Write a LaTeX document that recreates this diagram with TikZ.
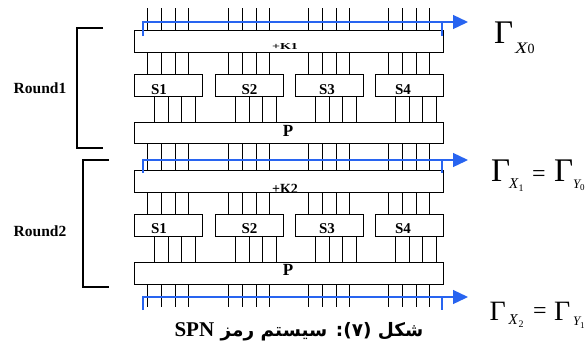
\documentclass[tikz,border=0pt]{standalone}
\usepackage{fontspec}
\setmainfont{Liberation Serif}
\newfontfamily\arabicfont[Script=Arabic]{DejaVu Sans}
\TeXXeTstate=1
\usetikzlibrary{arrows.meta}
\definecolor{wireblue}{RGB}{40,100,240}
\tikzset{
  blk/.style={draw, line width=1.3pt, minimum width=309pt, minimum height=22pt, inner sep=0pt, anchor=north west},
  sbox/.style={draw, line width=1.3pt, minimum width=68pt, minimum height=22pt, inner sep=0pt, anchor=north west},
  wire/.style={line width=0.95pt},
  tap/.style={wireblue, line width=1.3pt},
  tapar/.style={wireblue, line width=1.3pt, -{Triangle[length=15pt,width=14pt]}},
  brk/.style={line width=1.2pt},
  slbl/.style={inner sep=0pt, anchor=base, font=\bfseries\fontsize{15}{15}\selectfont},
  plbl/.style={inner sep=0pt, anchor=base, font=\bfseries\fontsize{17}{17}\selectfont},
  klbl/.style={inner sep=0pt, anchor=base, font=\bfseries\fontsize{14}{14}\selectfont},
  rlbl/.style={inner sep=0pt, font=\bfseries\fontsize{15.5}{15.5}\selectfont},
  gam/.style={inner sep=0pt, anchor=base west, font=\fontsize{#1}{#1}\selectfont},
  sub/.style={inner sep=0pt, anchor=base west, font=\itshape\fontsize{#1}{#1}\selectfont},
  subn/.style={inner sep=0pt, anchor=base west, font=\fontsize{#1}{#1}\selectfont},
}
\begin{document}
\begin{tikzpicture}[x=1pt,y=-1pt]
\useasboundingbox (0,0) rectangle (585,341);
% free-end coordinates
\coordinate (topin) at (0,8);
\coordinate (botout) at (0,307);
% boxes round 1
\node[blk] (k1) at (134,30) {};
\node[sbox] (s11) at (134,74) {};
\node[sbox] (s12) at (215,74) {};
\node[sbox] (s13) at (295,74) {};
\node[sbox] (s14) at (375,74) {};
\node[blk, minimum height=21pt] (p1) at (134,122) {};
% boxes round 2
\node[blk] (k2) at (134,170) {};
\node[sbox] (s21) at (134,214) {};
\node[sbox] (s22) at (215,214) {};
\node[sbox] (s23) at (295,214) {};
\node[sbox] (s24) at (375,214) {};
\node[blk] (p2) at (134,262) {};
% wires
\foreach \L/\g in {134/1,215/2,295/3,375/4}{
  \foreach \o in {13.5,27.3,41,54.8}{
    \pgfmathsetmacro\X{\L+\o}
    \draw[wire] (\X,0 |- topin) -- (\X,0 |- k1.north);
    \draw[wire] (\X,0 |- k1.south) -- (\X,0 |- s1\g.north);
    \draw[wire] (\X,0 |- p1.south) -- (\X,0 |- k2.north);
    \draw[wire] (\X,0 |- k2.south) -- (\X,0 |- s2\g.north);
    \draw[wire] (\X,0 |- p2.south) -- (\X,0 |- botout);
  }
  \foreach \o in {20.5,34,47.5,61}{
    \pgfmathsetmacro\X{\L+\o}
    \draw[wire] (\X,0 |- s1\g.south) -- (\X,0 |- p1.north);
    \draw[wire] (\X,0 |- s2\g.south) -- (\X,0 |- p2.north);
  }
}
% box labels
\node[slbl] (l11) at (159,94) {S1};
\node[slbl] (l12) at (249.5,94) {S2};
\node[slbl] (l13) at (327,94) {S3};
\node[slbl] (l14) at (403,94) {S4};
\node[slbl] (l21) at (159,233.3) {S1};
\node[slbl] (l22) at (249.5,233.3) {S2};
\node[slbl] (l23) at (327,233.3) {S3};
\node[slbl] (l24) at (403,233.3) {S4};
\node[plbl] (lp1) at (288,136) {P};
\node[plbl] (lp2) at (288,275) {P};
\node[klbl] (lk1) at (285,49.3) {\scalebox{1}[0.65]{+K1}};
\begin{scope}
  \clip (k2.north west) rectangle (k2.south east);
  \node[klbl] (lk2) at (285,193) {+K2};
\end{scope}
% blue taps
\coordinate (a1) at (143,36);  \coordinate (b1) at (442,36);  \coordinate (e1) at (468,22);
\coordinate (a2) at (143,173); \coordinate (b2) at (442,173); \coordinate (e2) at (468,160);
\coordinate (a3) at (143,310); \coordinate (b3) at (442,310); \coordinate (e3) at (468,297);
\draw[tap] (a1) |- (b1 |- e1) -- (b1);
\draw[tapar] (b1 |- e1) -- (e1);
\draw[tap] (a2) |- (b2 |- e2) -- (b2);
\draw[tapar] (b2 |- e2) -- (e2);
\draw[tap] (a3) |- (b3 |- e3) -- (b3);
\draw[tapar] (b3 |- e3) -- (e3);
% round brackets
\draw[brk] (103,28) -- (77,28) -- (77,148) -- (103,148);
\draw[brk] (109,160) -- (83,160) -- (83,287) -- (109,287);
\node[rlbl] (r1) at (40,88.3) {Round1};
\node[rlbl] (r2) at (40,231) {Round2};
% Gamma labels
\node[gam=33] (g0) at (494,43.3) {Γ};
\node[sub=16] (g0x) at (515,53.3) {\scalebox{1.25}[1]{X}};
\node[subn=14] (g0n) at (527.5,53.3) {0};
\node[gam=33] (g1) at (491,181.7) {Γ};
\node[sub=15] (g1x) at (509,188) {X};
\node[subn=10] (g1n) at (518.5,191) {1};
\node[subn=24] (g1e) at (532,181) {=};
\node[gam=33] (g1b) at (554,181.7) {Γ};
\node[sub=13] (g1y) at (573,188) {Y};
\node[subn=9] (g1yn) at (580,190.5) {0};
\node[gam=28] (g2) at (489.5,320) {Γ};
\node[sub=15] (g2x) at (508.5,324) {X};
\node[subn=10] (g2n) at (518.5,327.5) {2};
\node[subn=24] (g2e) at (533,318.5) {=};
\node[gam=28] (g2b) at (554,320) {Γ};
\node[sub=13] (g2y) at (573,325) {Y};
\node[subn=9] (g2yn) at (580,328) {1};
% caption
\node[inner sep=0pt, anchor=base, font=\arabicfont\bfseries\fontsize{18.5}{18.5}\selectfont] (cap) at (299,336)
  {\beginR شکل (۷): سیستم رمز \beginL{\rmfamily\fontsize{21}{21}\selectfont SPN}\endL\endR};
\end{tikzpicture}
\end{document}
